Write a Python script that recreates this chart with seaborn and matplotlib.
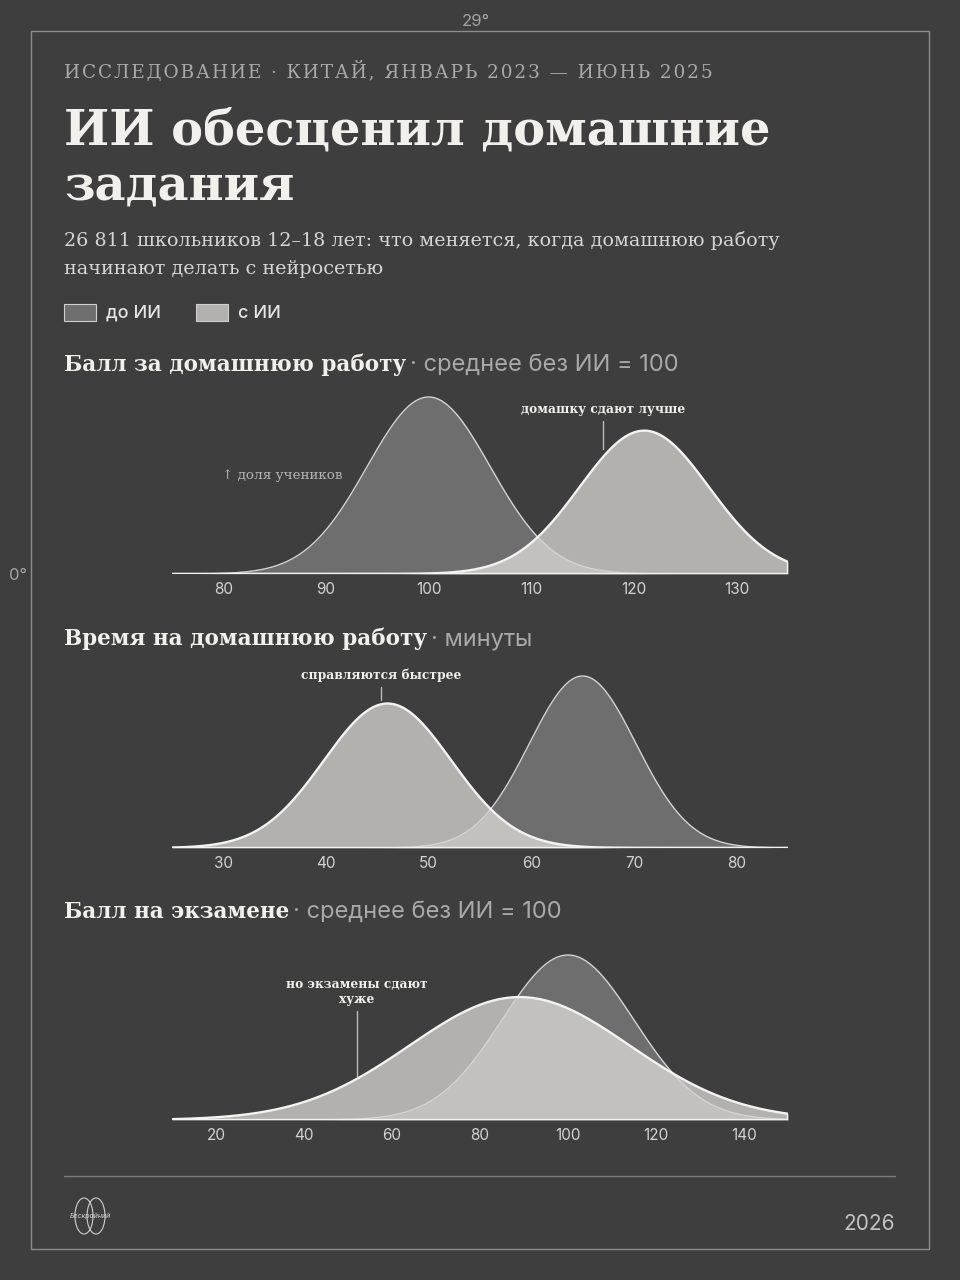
import numpy as np
import matplotlib
matplotlib.use("Agg")
from matplotlib import pyplot as plt
from matplotlib.patches import Rectangle, Ellipse
import seaborn as sns

# --- data --------------------------------------------------------------
groups = ["до ИИ", "с ИИ"]

# homework score
hw_mean = [100, 121]
hw_sd = [6.0, 6.3]
hw_peak = [1.0, 0.81]
hw_ticks = [80, 90, 100, 110, 120, 130]

# time spent on homework, minutes
time_mean = [65, 46]
time_sd = [5.2, 6.2]
time_peak = [1.0, 0.84]
time_ticks = [30, 40, 50, 60, 70, 80]

# exam score
exam_mean = [100, 89]
exam_sd = [15, 25]
exam_peak = [1.0, 0.745]
exam_ticks = [20, 40, 60, 80, 100, 120, 140]

BG = "#3e3e3e"
DARK_FILL = "#9c9c9c"
LIGHT_FILL = "#ebe9e3"
SERIF = ["DejaVu Serif"]
SANS = ["Inter", "DejaVu Sans"]

sns.set_theme(style="dark", rc={"axes.facecolor": BG, "figure.facecolor": BG})
plt.rcParams["font.family"] = SANS

W, H = 960, 1280
fig = plt.figure(figsize=(9.6, 12.8), dpi=100)


def fx(x):
    return x / W


def fy(y):
    return 1 - y / H


# frame and corner marks
fig.patches.append(Rectangle((fx(31), fy(1249)), fx(898), 1218 / H, transform=fig.transFigure,
                             fill=False, edgecolor="#8c8c8c", lw=1.0))
fig.text(fx(476), fy(22), "29°", ha="center", va="center", color="#a4a4a4", fontsize=12)
fig.text(fx(18), fy(575), "0°", ha="center", va="center", color="#a4a4a4", fontsize=12)

# header
kicker = "ИССЛЕДОВАНИЕ · КИТАЙ, ЯНВАРЬ 2023 — ИЮНЬ 2025"
fig.text(fx(64), fy(71), "\u200a".join(kicker), ha="left", va="center", color="#a9a9a9",
         fontsize=13.3, family=SERIF)
fig.text(fx(64), fy(131), "ИИ обесценил домашние", ha="left", va="center", color="#f1f0ec",
         fontsize=34.5, fontweight="heavy", family=SERIF)
fig.text(fx(64), fy(187), "задания", ha="left", va="center", color="#f1f0ec",
         fontsize=34.5, fontweight="heavy", family=SERIF)
fig.text(fx(64), fy(241), "26 811 школьников 12–18 лет: что меняется, когда домашнюю работу",
         ha="left", va="center", color="#d6d6d6", fontsize=13.8, family=SERIF)
fig.text(fx(64), fy(269), "начинают делать с нейросетью",
         ha="left", va="center", color="#d6d6d6", fontsize=13.8, family=SERIF)

# legend
for x0, col, alpha, lab in [(64, DARK_FILL, 0.52, groups[0]), (196, LIGHT_FILL, 0.68, groups[1])]:
    fig.patches.append(Rectangle((fx(x0), fy(321)), fx(32), 17 / H, transform=fig.transFigure,
                                 facecolor=col, alpha=alpha, edgecolor="none"))
    fig.patches.append(Rectangle((fx(x0), fy(321)), fx(32), 17 / H, transform=fig.transFigure,
                                 fill=False, edgecolor="#cfcfcf", lw=0.8))
    fig.text(fx(x0 + 42), fy(313), lab, ha="left", va="center", color="#e6e6e6",
             fontsize=13, fontweight="medium")

fig.canvas.draw()
renderer = fig.canvas.get_renderer()


def heading(y, bold, rest):
    t = fig.text(fx(64), fy(y), bold, ha="left", va="center", color="#f1f0ec",
                 fontsize=15.5, fontweight="bold", family=SERIF)
    bb = t.get_window_extent(renderer)
    fig.text(bb.x1 / W + fx(4), fy(y), "· " + rest, ha="left", va="center",
             color="#a9a9a9", fontsize=17)


def panel(baseline, xlim, ticks, means, sds, peaks, peak_px):
    ax = fig.add_axes([fx(172), fy(baseline), fx(616), 200 / H])
    ax.set_facecolor("none")
    xs = np.linspace(xlim[0], xlim[1], 600)
    fills = [(DARK_FILL, 0.52, "#d4d4d4", 1.0), (LIGHT_FILL, 0.68, "#f3f3f3", 1.7)]
    for m, s, p, (fc, a, lc, lw) in zip(means, sds, peaks, fills):
        ys = p * np.exp(-0.5 * ((xs - m) / s) ** 2)
        ax.fill_between(xs, 0, ys, color=fc, alpha=a, lw=0)
        sns.lineplot(x=xs, y=ys, ax=ax, color=lc, lw=lw)
        ax.vlines([xs[0], xs[-1]], 0, [ys[0], ys[-1]], color=lc, lw=lw)
    ax.axhline(0, color="#f2f2f2", lw=2.4)
    ax.set_xlim(xlim)
    ax.set_ylim(0, 200 / peak_px)
    ax.set_xticks(ticks)
    ax.set_yticks([])
    ax.tick_params(axis="x", length=0, pad=6, labelsize=11, labelcolor="#d2d2d2")
    for sp in ax.spines.values():
        sp.set_visible(False)
    ax.grid(False)
    return ax


def note(x, y, text, line, color="#f1f0ec"):
    fig.text(fx(x), fy(y), text, ha="center", va="center", color=color,
             fontsize=8.8, fontweight="bold", family=SERIF, linespacing=1.3)
    if line:
        fig.add_artist(plt.Line2D([fx(x), fx(x)], [fy(line[0]), fy(line[1])],
                                  transform=fig.transFigure, color="#bdbdbd", lw=1.0))


# panel 1
heading(365, "Балл за домашнюю работу", "среднее без ИИ = 100")
panel(574, (75, 135), hw_ticks, hw_mean, hw_sd, hw_peak, 177)
note(603, 409, "домашку сдают лучше", (421, 449))
fig.text(fx(222), fy(476), "↑ доля учеников", ha="left", va="center", color="#b4b4b4",
         fontsize=9.7, family=SERIF)

# panel 2
heading(639, "Время на домашнюю работу", "минуты")
panel(848, (25, 85), time_ticks, time_mean, time_sd, time_peak, 172)
note(381, 675, "справляются быстрее", (687, 700))

# panel 3
heading(912, "Балл на экзамене", "среднее без ИИ = 100")
panel(1120, (10, 150), exam_ticks, exam_mean, exam_sd, exam_peak, 165)
note(357, 992, "но экзамены сдают\nхуже", (1011, 1076))

# footer
fig.add_artist(plt.Line2D([fx(64), fx(895)], [fy(1176), fy(1176)], transform=fig.transFigure,
                          color="#7c7c7c", lw=1.0))
for cx in (84, 96):
    fig.patches.append(Ellipse((fx(cx), fy(1216)), fx(18), 36 / H, transform=fig.transFigure,
                               fill=False, edgecolor="#d0d0d0", lw=0.8))
fig.text(fx(90), fy(1216), "Бескрайний", ha="center", va="center", color="#d8d8d8",
         fontsize=5, style="italic")
fig.text(fx(895), fy(1224), "2026", ha="right", va="center", color="#c4c4c4", fontsize=15)

fig.savefig("out.png", dpi=100, facecolor=BG)
